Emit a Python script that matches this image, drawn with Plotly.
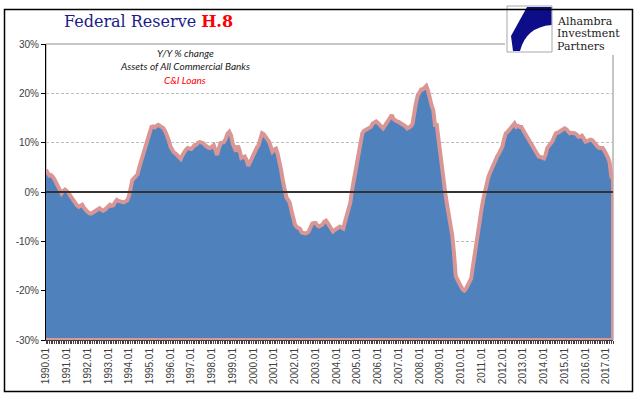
import pandas as pd
import plotly.graph_objects as go

# Y/Y % change, C&I Loans, Assets of All Commercial Banks (monthly, from 1990.01)
cni_loans_yoy = [
    4.5, 3.6, 3.3, 3.4, 3.1, 2.5, 1.8, 1.0, 0.1, -0.3, 0.2, 0.5,            # 1990
    0.2, -0.1, -0.7, -1.3, -1.8, -2.2, -2.7, -3.0, -2.8, -2.6, -3.2, -3.7,  # 1991
    -4.0, -4.3, -4.4, -4.2, -4.0, -3.9, -3.6, -3.3, -3.6, -3.8, -3.6, -3.3, # 1992
    -3.0, -2.6, -2.8, -2.7, -2.1, -1.6, -1.8, -2.0, -2.0, -2.1, -2.0, -1.7, # 1993
    -0.8, 0.8, 2.4, 2.8, 3.3, 3.6, 5.0, 6.2, 7.5, 8.8, 10.2, 11.3,          # 1994
    12.4, 13.2, 13.3, 13.1, 13.4, 13.6, 13.4, 13.2, 12.9, 12.3, 11.5, 10.5, # 1995
    9.2, 8.4, 8.0, 7.8, 7.4, 7.1, 6.7, 7.5, 8.2, 8.6, 8.9, 8.8,             # 1996
    8.7, 9.1, 9.5, 9.6, 10.0, 10.1, 10.0, 9.9, 9.5, 9.2, 9.0, 8.9,          # 1997
    9.2, 9.5, 8.5, 7.5, 8.8, 9.9, 10.0, 10.1, 10.8, 11.8, 12.2, 11.5,       # 1998
    9.8, 8.8, 8.2, 9.4, 8.5, 6.9, 7.0, 7.2, 6.5, 5.3, 6.0, 6.8,             # 1999
    7.8, 8.6, 9.0, 9.5, 11.0, 11.9, 11.7, 11.2, 10.8, 10.2, 9.2, 8.2,       # 2000
    8.6, 8.8, 7.8, 6.5, 4.5, 2.4, 0.5, -1.0, -1.6, -2.2, -3.8, -5.0,        # 2001
    -6.6, -7.1, -7.4, -7.5, -8.2, -8.4, -8.4, -8.3, -8.0, -7.2, -6.4, -6.3, # 2002
    -6.3, -6.8, -7.0, -6.8, -6.6, -6.0, -5.8, -6.3, -6.8, -7.3, -8.0, -7.7, # 2003
    -7.4, -7.2, -7.0, -7.2, -7.4, -6.0, -4.8, -3.5, -2.2, 0.3, 2.3, 4.2,    # 2004
    6.5, 8.3, 10.0, 11.9, 12.4, 12.6, 12.8, 13.0, 13.2, 13.9, 14.2, 14.3,   # 2005
    14.0, 13.6, 13.2, 12.9, 13.4, 13.9, 14.5, 15.1, 15.6, 14.8, 14.5, 14.3, # 2006
    14.2, 14.0, 13.8, 13.6, 13.3, 12.9, 13.0, 13.3, 13.8, 16.5, 18.0, 19.5, # 2007
    20.3, 20.8, 20.8, 21.3, 21.5, 20.5, 18.7, 17.6, 16.6, 13.6, 13.6, 10.5, # 2008
    8.0, 5.5, 2.5, -0.3, -2.5, -4.3, -6.5, -8.8, -12.5, -17.0, -17.8, -18.5, # 2009
    -19.2, -19.8, -20.0, -19.6, -18.9, -18.2, -17.5, -15.0, -12.4, -10.0, -7.7, -5.5,  # 2010
    -3.3, -1.3, 0.4, 2.0, 3.1, 4.0, 4.8, 5.9, 6.5, 7.2, 7.8, 8.5,           # 2011
    9.2, 10.8, 11.9, 12.2, 12.6, 12.9, 13.2, 13.9, 13.2, 13.4, 13.2, 13.2,  # 2012
    12.5, 11.9, 11.2, 10.6, 9.9, 9.3, 8.6, 8.0, 7.6, 7.2, 7.1, 7.0,         # 2013
    6.8, 7.6, 8.9, 9.4, 9.9, 10.3, 11.2, 11.9, 12.0, 12.2, 12.5, 12.7,      # 2014
    12.9, 12.7, 12.3, 11.9, 12.0, 12.0, 11.9, 11.6, 11.2, 11.2, 11.4, 10.9, # 2015
    10.2, 10.3, 10.5, 10.6, 10.5, 10.0, 9.5, 9.2, 8.9, 8.9, 8.9, 8.4,       # 2016
    7.8, 7.0, 6.1, 3.1, 2.6,                                                 # 2017
]
months = pd.date_range("1990-01-01", periods=len(cni_loans_yoy), freq="MS")

year_ticks = [d for d in months if d.month == 1]
year_tick_labels = [f"{d.year}.01" for d in year_ticks]

y_ticks = [-30, -20, -10, 0, 10, 20, 30]
y_tick_labels = ["-30%", "-20%", "-10%", "0%", "10%", "20%", "30%"]
y_min, y_max = y_ticks[0], y_ticks[-1]

W, H = 640, 399
L, R, T, B = 46, 27, 44, 59
PW, PH = W - L - R, H - T - B


def px(x):
    return (x - L) / PW


def py(y):
    return (H - B - y) / PH


# closed area polygon: series then down to the axis floor
poly_x = list(months) + [months[-1], months[0]]
poly_y = list(cni_loans_yoy) + [y_min, y_min]

fig = go.Figure()
fig.add_trace(go.Scatter(
    x=poly_x, y=poly_y, mode="lines", fill="toself",
    fillcolor="#4F81BD",
    line=dict(color="#D99694", width=4),
    hoverinfo="skip", showlegend=False,
))

axis_font = dict(family="Liberation Sans, Arial, sans-serif", size=10, color="#404040")

fig.update_xaxes(
    type="date", range=[months[0], months[-1]],
    tickvals=year_ticks, ticktext=year_tick_labels, tickangle=-90,
    ticks="outside", ticklen=3, tickcolor="#404040",
    showline=True, linecolor="#404040", linewidth=1,
    showgrid=False, zeroline=False, tickfont=axis_font,
    minor=dict(dtick="M1", ticks="outside", ticklen=3, tickcolor="#404040", showgrid=False),
)
fig.update_yaxes(
    range=[y_min, y_max], tickvals=y_ticks, ticktext=y_tick_labels,
    ticks="outside", ticklen=4, tickcolor="#000000",
    showline=True, linecolor="#000000", linewidth=1,
    showgrid=True, gridcolor="#BEBEBE", griddash="3px,2px", gridwidth=1,
    zeroline=False, tickfont=axis_font,
)

shapes = [
    # plot-area border (gray)
    dict(type="rect", xref="paper", yref="paper", x0=0, x1=1, y0=0, y1=1,
         line=dict(color="#8C8C8C", width=1), layer="below"),
    # zero line on top of area
    dict(type="line", xref="paper", yref="y", x0=0, x1=1, y0=0, y1=0,
         line=dict(color="#333333", width=2), layer="above"),
    # logo white background
    dict(type="rect", xref="paper", yref="paper", x0=px(505), x1=px(631), y0=py(55), y1=py(10),
         line=dict(width=0), fillcolor="white", layer="above"),
    # logo square
    dict(type="rect", xref="paper", yref="paper", x0=px(507), x1=px(552), y0=py(52), y1=py(6),
         line=dict(color="#A8A8A8", width=1), fillcolor="white", layer="above"),
]

logo_path = (
    f"M {px(527)},{py(7)} L {px(551.5)},{py(7)} L {px(551.5)},{py(25)} "
    f"Q {px(526)},{py(27)} {px(520)},{py(51)} L {px(513)},{py(51)} "
    f"L {px(511)},{py(36)} Z"
)
shapes.append(dict(type="path", xref="paper", yref="paper", path=logo_path,
                   fillcolor="#0D0D8A", line=dict(width=0), layer="above"))
# outer frame
shapes.append(dict(type="rect", xref="paper", yref="paper",
                   x0=px(4.5), x1=px(632.5), y0=py(391.5), y1=py(9.5),
                   line=dict(color="#000000", width=1.5), layer="above"))
fig.update_layout(shapes=shapes)

ann = []
ann.append(dict(
    x=px(62), y=py(21), xref="paper", yref="paper", xanchor="left", yanchor="middle",
    text="<span style='color:#1B1B8C'>Federal Reserve </span><b><span style='color:#FF0000'>H.8</span></b>",
    showarrow=False, font=dict(family="DejaVu Serif, serif", size=16, color="#1B1B8C"),
))
note_font = dict(family="Lato, sans-serif", size=10, color="#1A1A1A")
for txt, yy, col in [("Y/Y % change", 53, "#1A1A1A"),
                     ("Assets of All Commercial Banks", 66, "#1A1A1A"),
                     ("C&I Loans", 79.5, "#FF0000")]:
    ann.append(dict(x=px(185), y=py(yy), xref="paper", yref="paper",
                    xanchor="center", yanchor="middle", showarrow=False,
                    text=f"<i>{txt}</i>", font=dict(note_font, color=col)))
for txt, yy in [("Alhambra", 21), ("Investment", 33.5), ("Partners", 46)]:
    ann.append(dict(x=px(555), y=py(yy), xref="paper", yref="paper",
                    xanchor="left", yanchor="middle", align="left", showarrow=False,
                    height=12, text=txt,
                    font=dict(family="DejaVu Serif, serif", size=11, color="#222222")))
fig.update_layout(annotations=ann)

fig.update_layout(
    width=W, height=H, margin=dict(l=L, r=R, t=T, b=B),
    paper_bgcolor="white", plot_bgcolor="white", showlegend=False,
)
fig.write_html("out.html", config={"displayModeBar": False},
               post_script="document.body.style.margin='0';document.body.style.padding='0';")
